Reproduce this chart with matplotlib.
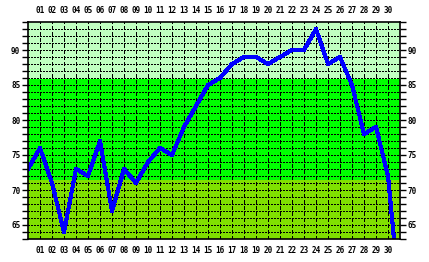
import matplotlib
matplotlib.use('Agg')
import matplotlib.pyplot as plt

# days 0..31 (0 and 31 are the neighbouring days, partly clipped)
days = list(range(0, 32))
values = [73, 76, 71, 64, 73, 72, 77, 67, 73, 71, 74, 76, 75, 79, 82, 85,
          86, 88, 89, 89, 88, 89, 90, 90, 93, 88, 89, 85, 78, 79, 72, 54]
day_labels = ['%02d' % d for d in range(1, 31)]
y_ticks = [65, 70, 75, 80, 85, 90]

# background bands: (low, high, colour)
band_edges = [63, 71.4, 85.8, 94]
band_colors = ['#80e000', '#00ff00', '#c0ffc0']

fig = plt.figure(figsize=(4.29, 2.62), dpi=100)
ax = fig.add_axes([28 / 429, 23 / 262, 372 / 429, 217 / 262])
ax.set_xlim(0, 31)
ax.set_ylim(63, 94)

for i, c in enumerate(band_colors):
    ax.axhspan(band_edges[i], band_edges[i + 1], color=c, lw=0, zorder=0)

# grid
for y in range(64, 94):
    ax.axhline(y, color='black', lw=0.75, ls=(0, (1, 1)), antialiased=False, zorder=1)
for d in range(1, 31):
    ax.axvline(d, color='black', lw=0.75, ls=(0, (3, 2)), antialiased=False, zorder=1)

ax.plot(days, values, color='#0000ff', lw=2.2, antialiased=False, zorder=3,
        solid_joinstyle='round')

font = dict(family='DejaVu Sans Mono', weight='bold', size=5.5)

ax.set_xticks(range(1, 31))
ax.set_xticklabels(day_labels, **font)
ax.tick_params(axis='x', which='both', length=0, pad=5,
               top=True, labeltop=True, bottom=True, labelbottom=True)

ax.set_yticks(y_ticks)
ax.set_yticklabels([str(v) for v in y_ticks], **font)
ax.set_yticks(range(63, 95), minor=True)
ax.tick_params(axis='y', which='both', length=4.3, width=1, direction='out',
               left=True, right=True, labelleft=True, labelright=True, pad=1.2)

for s in ax.spines.values():
    s.set_linewidth(1.2)
    s.set_zorder(4)

fig.savefig('out.png', dpi=100, facecolor='white')
